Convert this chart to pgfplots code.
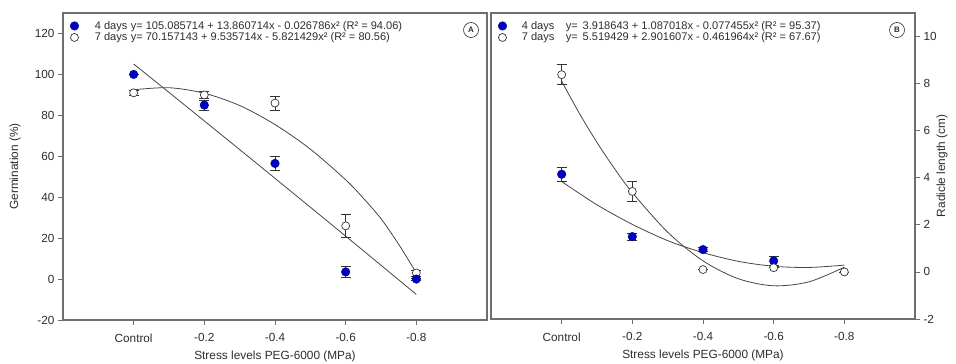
\documentclass[border=0pt]{standalone}
\usepackage{pgfplots}
\pgfplotsset{compat=1.18}
\usepackage{fontspec}
\setmainfont{Liberation Sans}
\definecolor{frame}{RGB}{110,110,110}
\definecolor{txt}{RGB}{45,45,45}
\definecolor{dotblue}{RGB}{0,0,200}
\definecolor{curve}{RGB}{70,70,70}
\pgfplotsset{
  common/.style={
    scale only axis,
    xmin=-1, xmax=5,
    xtick={0,1,2,3,4},
    xticklabels={Control,-0.2,-0.4,-0.6,-0.8},
    tick align=outside, major tick length=5bp,
    axis line style={frame, line width=1.1bp},
    every tick/.style={frame, line width=0.8bp},
    tick label style={font=\fontsize{11.8}{13}\selectfont, text=txt},
    xticklabel style={yshift=-5bp},
    /pgf/number format/assume math mode=true,
    xtick pos=bottom,
    xlabel={Stress levels PEG-6000 (MPa)},
    every axis x label/.style={at={(axis description cs:0.5,0)}, anchor=center, yshift=-36.5bp,
      font=\fontsize{11.9}{13}\selectfont, text=txt},
    legend style={at={(axis description cs:0,1)}, anchor=north west, xshift=5bp, yshift=-5bp,
      draw=none, fill=none,
      font=\fontsize{11.1}{13}\selectfont, text=txt, row sep=0bp, inner sep=2bp,
      nodes={inner ysep=1bp}},
    legend cell align=left,
    legend image code/.code={\draw[#1] plot coordinates {(0bp,0bp)};},
  },
  filled/.style={only marks, mark=*, mark size=4.3bp, mark options={fill=dotblue, draw=dotblue!60!black, line width=0.4bp}},
  open/.style={only marks, mark=*, mark size=4bp, mark options={fill=white, draw=black!80, line width=0.7bp}},
  ebars/.style={error bars/.cd, y dir=both, y explicit, error mark=|,
      error bar style={black!80, line width=0.7bp},
      error mark options={black!80, line width=0.7bp, mark size=5bp}, /pgfplots/.cd},
  fit/.style={curve, line width=0.8bp, smooth, forget plot},
}
\begin{document}
\begin{tikzpicture}
\path[use as bounding box] (0bp,0bp) rectangle (956bp,-364bp);
% ---------- Panel A ----------
\begin{axis}[common,
  at={(63bp,-320bp)}, anchor=south west,
  width=424bp, height=307bp,
  ymin=-20, ymax=130, ytick={-20,0,...,120},
  ytick pos=left,
  ylabel={Germination (\%)},
  every axis y label/.style={at={(axis description cs:-0.113,0.5)}, rotate=90, anchor=center,
      font=\fontsize{11.9}{13}\selectfont, text=txt},
]
\addlegendimage{filled}
\addlegendentry{\hspace*{14bp}\makebox[36bp][l]{4 days}y= 105.085714 + 13.860714x - 0.026786x² (R² = 94.06)}
\addlegendimage{open}
\addlegendentry{\hspace*{14bp}\makebox[36bp][l]{7 days}y= 70.157143 + 9.535714x - 5.821429x² (R² = 80.56)}
\addplot[fit] coordinates {(0,105.09) (0.5,91.20) (1,77.26) (1.5,63.27) (2,49.22) (2.5,35.12) (3,20.96) (3.5,6.76) (4,-7.51)};
\addplot[fit] coordinates {(0,92.5) (0.5,93.5) (1,90.8) (1.5,84.8) (2,75.5) (2.5,63.5) (3,48.5) (3.25,39.5) (3.5,29.5) (3.75,17.0) (4,3.0)};
\addplot[forget plot, open, ebars] table[x=x, y=y, y error=e] {
x y e
0 91.0 1.0
1 90.0 1.8
2 86.0 3.5
3 26.0 5.5
4 3.0 1.5
};
\addplot[forget plot, filled, ebars] table[x=x, y=y, y error=e] {
x y e
0 100.0 0.0
1 85.0 2.5
2 56.5 3.5
3 3.5 2.5
4 0.0 0.5
};
\end{axis}
% ---------- Panel B ----------
\begin{axis}[common,
  at={(491bp,-319bp)}, anchor=south west,
  width=424bp, height=306bp,
  ymin=-2, ymax=11, ytick={-2,0,...,10},
  ytick pos=right, yticklabel pos=right,
  ylabel={Radicle length (cm)},
  every axis y label/.style={at={(axis description cs:1.0637,0.5)}, rotate=90, anchor=center,
      font=\fontsize{11.9}{13}\selectfont, text=txt},
]
\addlegendimage{filled}
\addlegendentry{\hspace*{13bp}\makebox[44bp][l]{4 days}y=\, 3.918643 + 1.087018x - 0.077455x² (R² = 95.37)}
\addlegendimage{open}
\addlegendentry{\hspace*{13bp}\makebox[44bp][l]{7 days}y=\, 5.519429 + 2.901607x - 0.461964x² (R² = 67.67)}
\addplot[fit] coordinates {(0,3.84) (0.5,2.85) (1,2.02) (1.5,1.33) (2,0.82) (2.5,0.45) (3,0.24) (3.5,0.19) (4,0.29)};
\addplot[fit] coordinates {(0,8.1) (0.25,6.74) (0.5,5.50) (0.75,4.38) (1,3.37) (1.5,1.69) (2,0.47) (2.5,-0.29) (3,-0.59) (3.5,-0.42) (4,0.2)};
\addplot[forget plot, filled, ebars] table[x=x, y=y, y error=e] {
x y e
0 4.15 0.3
1 1.50 0.15
2 0.95 0.08
3 0.47 0.2
};
\addplot[forget plot, open, ebars] table[x=x, y=y, y error=e] {
x y e
0 8.38 0.42
1 3.42 0.42
2 0.10 0.0
3 0.18 0.0
4 0.00 0.0
};
\end{axis}
% panel letters
\node[draw=txt, circle, line width=0.6bp, minimum size=15bp, inner sep=0pt, text=txt,
      font=\fontsize{8}{9}\selectfont\bfseries] at (471bp,-30bp) {A};
\node[draw=txt, circle, line width=0.6bp, minimum size=15bp, inner sep=0pt, text=txt,
      font=\fontsize{8}{9}\selectfont\bfseries] at (897bp,-30bp) {B};
\end{tikzpicture}
\end{document}
